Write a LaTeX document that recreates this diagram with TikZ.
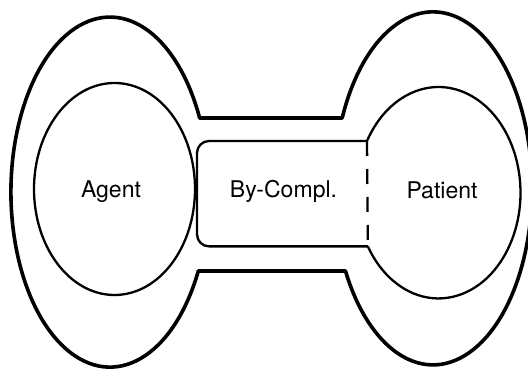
\documentclass[tikz,border=0pt]{standalone}
\usepackage{fontspec}
\setmainfont{TeX Gyre Heros}
\usepackage{tikz}
\usetikzlibrary{}

\begin{document}
\begin{tikzpicture}[x=1pt,y=1pt,
        outer/.style={line width=3.6pt,line join=round},
        inner/.style={line width=2.3pt},
        lbl/.style={anchor=base,font=\fontsize{23}{27}\selectfont}]
        \useasboundingbox (0,0) rectangle (528,370);

        % Outer outline: two big lobes joined by a neck
        \draw[outer] (199.7,252) -- (342.2,252)
            arc[start angle=156.5,end angle=-152.1,x radius=99,y radius=176.5]
            -- (198.3,99)
            arc[start angle=-26.8,end angle=-335,x radius=99,y radius=175] -- cycle;

        % Left inner ellipse
        \draw[inner] (114.5,181) ellipse[x radius=80.5,y radius=106];

        % Right inner ellipse, cut off where the box meets it
        \coordinate (ptop) at (367,229);
        \draw[inner] (ptop)
            arc[start angle=150.7,end angle=-149.5,x radius=82,y radius=105.7]
            coordinate (pbot);

        % Box between them, open on the right
        \draw[inner,rounded corners=12pt] (ptop) -- (197,229) |- (pbot);
        \draw[inner,dash pattern=on 15pt off 13pt] (ptop) -- (pbot);

        % Labels
        \node[lbl] (agent) at (111,172) {Agent};
        \node[lbl] (bycompl) at (283.5,172) {By-Compl.};
        \node[lbl] (patient) at (442,171) {Patient};
    \end{tikzpicture}
\end{document}
